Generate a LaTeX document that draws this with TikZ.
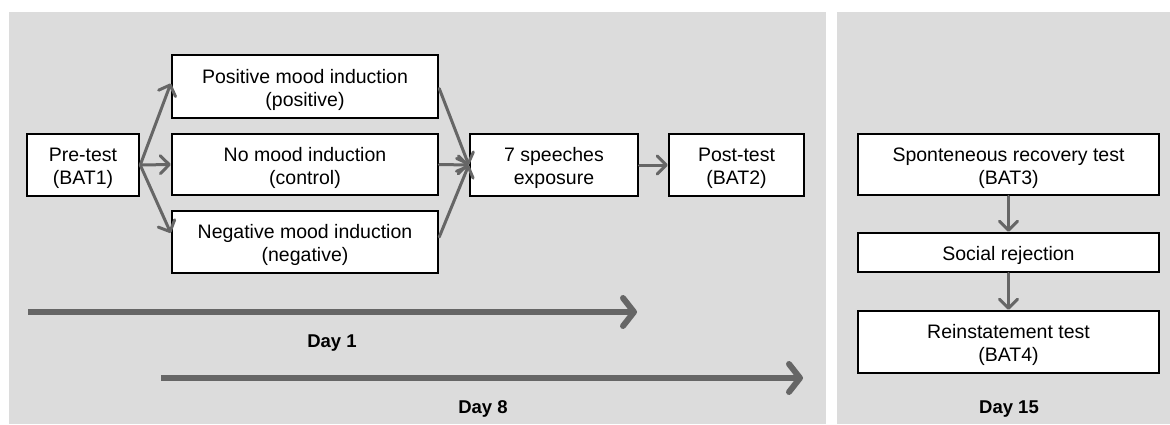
\documentclass[tikz,border=0pt]{standalone}
\usepackage{fontspec}
\setmainfont{Liberation Sans}
\usetikzlibrary{arrows.meta}
\definecolor{panelgray}{HTML}{DCDCDC}
\definecolor{arrowgray}{HTML}{666666}
\newcommand{\topstrut}{\rule{0pt}{21pt}}
\tikzset{
  stagebox/.style={draw=black, line width=2.5pt, fill=white, align=center, inner sep=0pt,
    font=\fontsize{19.5}{23}\selectfont},
  flowarrow/.style={draw=arrowgray, line width=3pt, line cap=round,
    -{Straight Barb[length=9pt, width=18pt, line cap=round, line join=round]}},
  timearrow/.style={draw=arrowgray, line width=6pt,
    -{Straight Barb[length=11pt, width=28pt, line cap=round, line join=round]}},
  daylabel/.style={font=\fontsize{18.5}{22}\bfseries\selectfont},
  panel/.style={fill=panelgray, draw=none}
}
\begin{document}
\begin{tikzpicture}[x=1pt, y=-1pt]
\useasboundingbox (0,0) rectangle (1170,424);
\fill[white] (0,0) rectangle (1170,424);
% panels
\path[panel] (9,12) rectangle (826,424);
\path[panel] (837,12) rectangle (1170,424);
% day 1/8 boxes
\node[stagebox, minimum width=112pt, minimum height=62pt] (pre) at (83,165) {\topstrut Pre-test\\(BAT1)};
\node[stagebox, minimum width=266pt, minimum height=63pt] (pos) at (305,86.5) {\topstrut Positive mood induction\\(positive)};
\node[stagebox, minimum width=266pt, minimum height=61pt] (ctl) at (305,164.5) {\topstrut No mood induction\\(control)};
\node[stagebox, minimum width=266pt, minimum height=62pt] (neg) at (305,242) {\topstrut Negative mood induction\\(negative)};
\node[stagebox, minimum width=168pt, minimum height=62pt] (sp) at (554,165) {\topstrut 7 speeches\\exposure};
\node[stagebox, minimum width=135pt, minimum height=62pt] (post) at (736.5,165) {\topstrut Post-test\\(BAT2)};
% day 15 boxes
\node[stagebox, minimum width=301pt, minimum height=61pt] (spr) at (1008.5,164.5) {\topstrut Sponteneous recovery test\\(BAT3)};
\node[stagebox, minimum width=301pt, minimum height=39pt] (soc) at (1008.5,252.5) {\topstrut Social rejection};
\node[stagebox, minimum width=301pt, minimum height=62pt] (rei) at (1008.5,342) {\topstrut Reinstatement test\\(BAT4)};
% connectors
\draw[flowarrow] (pre.east) -- ([yshift=3pt]pos.west);
\draw[flowarrow] (pre.east) -- (ctl.west);
\draw[flowarrow] (pre.east) -- ([yshift=9pt]neg.west);
\draw[flowarrow] ([yshift=-2pt]pos.east) -- (sp.west);
\draw[flowarrow] (ctl.east) -- (sp.west);
\draw[flowarrow] ([yshift=5pt]neg.east) -- (sp.west);
\draw[flowarrow] (sp.east) -- (post.west);
\draw[flowarrow] (spr.south) -- (soc.north);
\draw[flowarrow] (soc.south) -- (rei.north);
% timelines
\coordinate (d1s) at (28,312);
\coordinate (d1e) at (637,312);
\coordinate (d8s) at (161,378);
\coordinate (d8e) at (803,378);
\draw[timearrow] (d1s) -- (d1e);
\draw[timearrow] (d8s) -- (d8e);
\node[daylabel] (day1) at (332,343) {Day 1};
\node[daylabel] (day8) at (483,409) {Day 8};
\node[daylabel] (day15) at (1009,409) {Day 15};
\end{tikzpicture}
\end{document}
